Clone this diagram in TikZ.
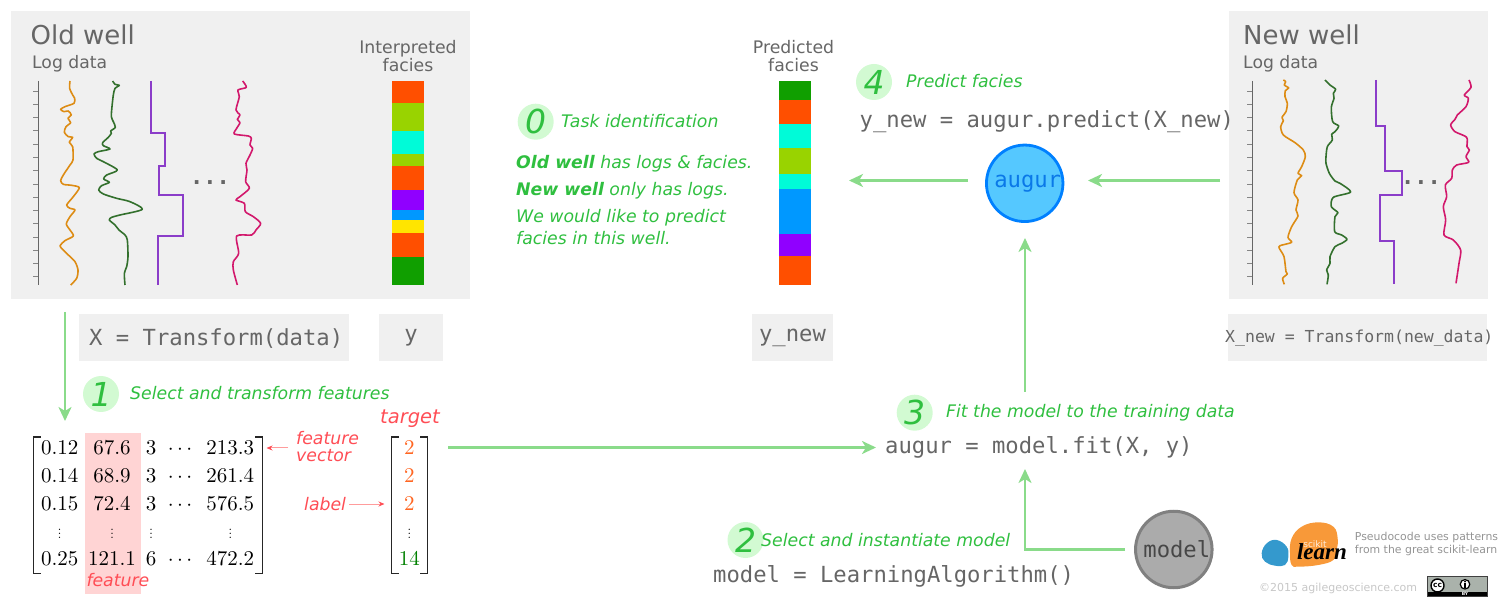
\documentclass[tikz,border=0pt]{standalone}
\usepackage{fix-cm}
\usepackage{fontspec}
\usetikzlibrary{arrows.meta}
\newfontfamily\dv{DejaVu Sans}
\newfontfamily\dvm{DejaVu Sans Mono}
\newfontfamily\lserif{Liberation Serif}
\newfontfamily\lmten{lmroman10-regular}[Extension=.otf]
\newcommand{\fs}[1]{\fontsize{#1}{#1}\selectfont}
\definecolor{boxgray}{HTML}{F0F0F0}
\definecolor{txtgray}{HTML}{666666}
\definecolor{flowgreen}{HTML}{8ADB8A}
\definecolor{stepgreen}{HTML}{2FBF3F}
\definecolor{stepfill}{HTML}{D2FAD2}
\definecolor{redlab}{HTML}{FF4D55}
\definecolor{redline}{HTML}{FF9C9C}
\definecolor{cA}{HTML}{FF4F00}
\definecolor{cB}{HTML}{99D300}
\definecolor{cC}{HTML}{00FBD8}
\definecolor{cD}{HTML}{9000FF}
\definecolor{cE}{HTML}{0098FF}
\definecolor{cF}{HTML}{FFE500}
\definecolor{cG}{HTML}{109F00}
\definecolor{lgO}{HTML}{DD8C14}
\definecolor{lgG}{HTML}{33702D}
\definecolor{lgP}{HTML}{8B3DC9}
\definecolor{lgR}{HTML}{D2186C}
\definecolor{augfill}{HTML}{55C8FF}
\definecolor{augline}{HTML}{0080FF}
\definecolor{augtext}{HTML}{0A78E8}
\definecolor{twoorange}{HTML}{FF6622}
\definecolor{fourteen}{HTML}{008000}
\definecolor{skblue}{HTML}{3499CD}
\definecolor{skorange}{HTML}{F89939}
\definecolor{ccgray}{HTML}{AAB2AB}
\tikzset{
  greybox/.style={fill=boxgray,draw=none},
  titletxt/.style={anchor=base west,inner sep=0,text=txtgray,font=\dv\fs{26}},
  subtxt/.style={anchor=base west,inner sep=0,text=txtgray,font=\dv\fs{17.2}},
  captxt/.style={anchor=base,inner sep=0,text=txtgray,font=\dv\fs{17.3}},
  codetxt/.style={anchor=base west,inner sep=0,text=txtgray,font=\dvm\fs{22.2}},
  steptext/.style={anchor=base west,inner sep=0,text=stepgreen,font=\dv\itshape\fs{17.3}},
  stepdot/.style={circle,fill=stepfill,minimum size=36pt,inner sep=0,text=stepgreen,font=\dv\itshape\fs{33}},
  redtext/.style={anchor=base west,inner sep=0,text=redlab,font=\dv\itshape\fs{17.3}},
  flow/.style={draw=flowgreen,line width=2.6pt,-{Stealth[length=14pt,width=13pt,inset=4pt]}},
  redarrow/.style={draw=redline,line width=1pt,-{Stealth[length=6pt,width=5pt,color=redlab]}},
  cell/.style={anchor=base,inner sep=0,font=\lmten\fs{21}},
  vcell/.style={anchor=base,inner sep=0,font=\fs{16}},
  brack/.style={draw=black!85,line width=1.4pt},
  logline/.style={line width=1.6pt,line join=round,smooth,tension=0.45},
}
\newcommand{\bands}[3]{% x1, x2, list
  \foreach \colr/\ya/\yb in {#3} {\fill[\colr] (#1,\ya) rectangle (#2,\yb);}}
\newcommand{\axisticks}[1]{%
  \draw[txtgray,line width=.9pt] (#1,243) -- (#1,855);
  \foreach \t in {273,313,352,392,433,472,511,552,592,631,671,712,751,790,830}
    {\draw[txtgray!80,line width=.8pt] (#1,\t) -- ++(-15,0);}}
\begin{document}
\begin{tikzpicture}[x=1pt,y=-1pt]
\useasboundingbox (0,0) rectangle (1500,609);
% --- boxes
\path[greybox] (11,11) rectangle (470,299);
\path[greybox] (1229,11) rectangle (1488,299);
\path[greybox] (79,314) rectangle (349,361);
\path[greybox] (379,314) rectangle (443,361);
\path[greybox] (752,314) rectangle (833,361);
\path[greybox] (1228,314) rectangle (1487,361);
% --- headings
\node[titletxt] (oldt) at (30.5,45) {Old well};
\node[subtxt] (oldl) at (32,68.3) {Log data};
\node[captxt] (interp1) at (408,53.3) {Interpreted};
\node[captxt] (interp2) at (408,71.3) {facies};
\node[titletxt] (newt) at (1243,45) {New well};
\node[subtxt] (newl) at (1243,68.3) {Log data};
\node[captxt] (pred1) at (793.5,53.3) {Predicted};
\node[captxt] (pred2) at (793.5,71.3) {facies};
% --- old well logs
\begin{scope}[x=.33333pt,y=-.33333pt]
\axisticks{115}
\draw[lgO,logline] plot coordinates {(210,243)(209,265)(218,285)(224,295)(222,310)(195,320)(182,328)(192,335)(205,333)(214,345)(204,355)(212,368)(198,380)(193,397)(205,410)(218,412)(208,427)(218,440)(219,480)(210,495)(190,525)(182,542)(190,553)(215,556)(238,563)(220,590)(200,615)(210,625)(225,630)(210,650)(199,672)(210,690)(220,708)(195,722)(180,738)(190,750)(205,765)(225,785)(234,810)(230,835)(212,855)};
\draw[lgG,logline] plot coordinates {(338,243)(345,253)(358,256)(345,265)(340,285)(336,320)(334,350)(340,365)(346,382)(332,393)(334,400)(325,412)(308,428)(310,437)(330,447)(295,455)(282,462)(290,475)(310,485)(352,510)(320,525)(311,537)(328,547)(305,557)(296,570)(310,582)(350,595)(390,605)(427,628)(360,645)(335,652)(328,660)(345,675)(357,690)(375,705)(382,720)(384,770)(380,800)(373,820)(375,855)};
\draw[lgP,line width=2pt] (453,243)--(453,400)--(494,400)--(494,497)--(476,497)--(476,584)--(548,584)--(548,708)--(474,708)--(474,855);
\draw[lgR,logline] plot coordinates {(728,243)(739,262)(714,270)(718,290)(708,330)(720,345)(712,358)(720,368)(710,385)(703,402)(745,408)(754,415)(750,435)(758,445)(750,465)(738,490)(741,510)(737,545)(748,565)(720,590)(708,600)(733,610)(736,635)(760,650)(782,670)(768,690)(755,705)(710,708)(716,760)(700,785)(700,810)(712,855)};
\bands{1176}{1272}{cA/243/310,cB/310/393,cC/393/461,cB/461/499,cA/499/570,cD/570/630,cE/630/660,cF/660/698,cA/698/771,cG/771/856}
\end{scope}
\node[anchor=base,inner sep=0,text=txtgray,font=\dvm\bfseries\fs{22}] (dotsold) at (210,185) {...};
% --- new well logs
\begin{scope}[x=.33333pt,y=-.33333pt,shift={(1220pt,0pt)}]
\axisticks{97}
\draw[lgO,logline] plot coordinates {(190,240)(197,245)(193,255)(206,264)(196,272)(195,290)(202,310)(198,335)(186,352)(190,362)(182,380)(190,405)(225,428)(250,450)(256,470)(245,500)(234,520)(245,527)(232,540)(222,578)(234,600)(228,630)(234,648)(215,680)(204,712)(215,727)(180,737)(178,745)(192,770)(198,815)(202,822)(188,835)(193,853)};
\draw[lgG,logline] plot coordinates {(315,240)(330,255)(347,268)(340,280)(342,295)(334,322)(338,365)(356,378)(345,395)(335,403)(337,420)(322,440)(318,470)(318,490)(328,520)(345,543)(360,550)(392,576)(340,592)(334,620)(354,638)(345,650)(344,695)(365,705)(381,718)(365,730)(345,740)(330,770)(330,790)(320,810)(325,825)(321,853)};
\draw[lgP,line width=2pt] (468,240)--(468,378)--(496,378)--(496,512)--(546,512)--(546,584)--(479,584)--(479,723)--(522,723)--(522,853);
\draw[lgR,logline] plot coordinates {(747,240)(753,262)(733,285)(745,295)(738,320)(712,345)(705,358)(692,375)(705,395)(740,412)(741,440)(748,450)(738,470)(746,487)(710,495)(697,510)(695,535)(676,555)(680,590)(670,620)(677,660)(672,705)(700,720)(722,750)(717,790)(708,850)};
\end{scope}
\node[anchor=base,inner sep=0,text=txtgray,font=\dvm\bfseries\fs{22}] (dotsnew) at (1421,185) {...};
% --- predicted facies
\begin{scope}[x=.33333pt,y=-.33333pt,shift={(500pt,-30pt)}]
\bands{838}{934}{cG/153/209,cA/209/283,cC/283/353,cB/353/433,cC/433/477,cE/477/612,cD/612/677,cA/677/766}
\end{scope}
% --- code labels
\node[codetxt] (xtr) at (89,346) {X = Transform(data)};
\node[codetxt,anchor=base] (yy) at (411,342) {y};
\node[codetxt,anchor=base] (ynew) at (792.5,342) {y\_new};
\node[codetxt,font=\dvm\fs{16.5}] (xnew) at (1225,343) {X\_new = Transform(new\_data)};
\node[codetxt] (ypred) at (859.5,128) {y\_new = augur.predict(X\_new)};
\node[codetxt] (fit) at (885,454) {augur = model.fit(X, y)};
\node[codetxt] (mdl) at (713,582) {model = LearningAlgorithm()};
% --- circles
\node[circle,minimum size=76.5pt,inner sep=0,fill=augfill,draw=augline,line width=2.8pt,text=augtext,font=\dvm\fs{22.2}] (augur) at (1024.7,183.3) {\hspace*{6pt}augur};
\node[circle,minimum size=76.5pt,inner sep=0,fill=black!33,draw=black!50,line width=3pt,text=black!72,font=\dvm\fs{22.2}] (model) at (1173.8,549.5) {\hspace*{6pt}model};
% --- steps
\node[stepdot] (s0) at (535.7,121.7) {0};
\node[steptext] (t0) at (561,127.5) {Task identification};
\node[stepdot] (s1) at (101,394) {1};
\node[steptext] (t1) at (130,399.5) {Select and transform features};
\node[stepdot] (s2) at (745.5,540) {2};
\node[steptext] (t2) at (761,546) {Select and instantiate model};
\node[stepdot] (s3) at (914.7,412.7) {3};
\node[steptext] (t3) at (946,418) {Fit the model to the training data};
\node[stepdot] (s4) at (874,82) {4};
\node[steptext] (t4) at (906,88) {Predict facies};
\node[steptext] (p1) at (516,169) {{\bfseries Old well} has logs \& facies.};
\node[steptext] (p2) at (516,196) {{\bfseries New well} only has logs.};
\node[steptext] (p3) at (516,222.5) {We would like to predict};
\node[steptext] (p4) at (516,245) {facies in this well.};
% --- matrix
\fill[red!17] (84.7,433) rectangle (141,593.7);
\foreach \rw/\yy/\a/\b/\cc/\dd in {1/454.5/0.12/67.6/3/213.3,2/482.5/0.14/68.9/3/261.4,3/510.1/0.15/72.4/3/576.5,5/565.8/0.25/121.1/6/472.2}{
  \node[cell] (ma\rw) at (59.7,\yy) {\a};
  \node[cell] (mb\rw) at (112,\yy) {\b};
  \node[cell] (mc\rw) at (151,\yy) {\cc};
  \node[cell,font=\fs{21}] (md\rw) at (180,\yy) {$\cdots$};
  \node[cell] (me\rw) at (230.3,\yy) {\dd};
}
\foreach \nm/\xx in {a/59.7,b/112,c/151,e/230.3}{
  \node[vcell] (m\nm4) at (\xx,538.5) {$\vdots$};
}
\draw[brack] (40.7,437) -| (33.3,573.3) -- (40.7,573.3);
\draw[brack] (255,437) -| (262.3,573.3) -- (255,573.3);
\draw[brack] (399,437) -| (391.7,573.3) -- (399,573.3);
\draw[brack] (420,437) -| (427.3,573.3) -- (420,573.3);
\foreach \rw/\yy in {1/454.5,2/482.5,3/510.1}{
  \node[cell,text=twoorange] (tv\rw) at (409.3,\yy) {2};
}
\node[vcell] (tv4) at (409.3,538.5) {$\vdots$};
\node[cell,text=fourteen] (tv5) at (409.3,565.8) {14};
% --- red labels
\node[redtext] (fv1) at (296,445) {feature};
\node[redtext] (fv2) at (296,461) {vector};
\node[redtext] (lab) at (304,511) {label};
\node[redtext] (fea) at (86.3,586) {feature};
\node[redtext,font=\dv\itshape\fs{19.5}] (tgt) at (380,424) {target};
\coordinate (fvs) at (288,448);
\coordinate (fve) at (266.5,448);
\coordinate (lbs) at (349,504);
\coordinate (lbe) at (384.5,504);
\draw[redarrow] (fvs) -- (fve);
\draw[redarrow] (lbs) -- (lbe);
% --- flow arrows
\coordinate (tfs) at (65,312);
\coordinate (tfe) at (65,421);
\coordinate (fs) at (448,447.5);
\coordinate (fe) at (876,447.5);
\coordinate (fua) at (1025,392);
\coordinate (fub) at (1025,238);
\coordinate (mf) at (1025,469);
\coordinate (aps) at (968,180.5);
\coordinate (ape) at (849,180.5);
\coordinate (nas) at (1220,180.5);
\coordinate (nae) at (1088,180.5);
\draw[flow] (tfs) -- (tfe);
\draw[flow] (fs) -- (fe);
\draw[flow] (fua) -- (fub);
\draw[flow,shorten <=9pt] (model.west) -| (mf);
\draw[flow] (aps) -- (ape);
\draw[flow] (nas) -- (nae);
% --- scikit-learn logo
\begin{scope}[x=.33333pt,y=-.33333pt,shift={(1255pt,-515pt)}]
\fill[skblue] plot[smooth cycle,tension=.7] coordinates {(20,115)(35,85)(65,75)(95,95)(100,125)(90,150)(60,152)(30,140)};
\fill[skorange] plot[smooth cycle,tension=.7] coordinates {(105,115)(110,70)(140,35)(190,22)(235,35)(248,70)(245,105)(235,135)(190,150)(130,155)(110,150)};
\node[anchor=center,inner sep=0,text=white!85!orange,font=\dv\fs{9}] (skit) at (180,87) {scikit};
\node[anchor=base,inner sep=0,text=black,font=\lserif\bfseries\itshape\fs{23}] (slearn) at (201,135) {learn};
\end{scope}
\node[anchor=base west,inner sep=0,text=black!42,font=\dv\fs{10.9}] (pc1) at (1354.7,540) {Pseudocode uses patterns};
\node[anchor=base west,inner sep=0,text=black!42,font=\dv\fs{10.9}] (pc2) at (1354.7,553.5) {from the great scikit-learn};
\node[anchor=base west,inner sep=0,text=black!22,font=\dv\fs{11}] (copy) at (1259,591) {©2015 agilegeoscience.com};
% --- CC badge
\fill[ccgray] (1427.7,576.7) rectangle (1487.7,592);
\fill[black] (1427.7,591.7) rectangle (1487.7,596.7);
\draw[black!75,line width=.8pt] (1427.7,576.7) rectangle (1487.7,596.7);
\node[circle,draw=black,line width=1.4pt,fill=white,minimum size=13pt,inner sep=0,text=black,font=\dv\bfseries\fs{7.5}] (ccb) at (1437.5,585.5) {cc};
\node[circle,draw=black,line width=1.2pt,fill=white,minimum size=9.5pt,inner sep=0] (ccp) at (1465,584.3) {};
\fill[black] (1465,581.6) circle (1.1pt);
\fill[black] (1463.6,583.2) rectangle (1466.4,587.6);
\node[inner sep=0,text=white,font=\dv\bfseries\fs{4.5}] (ccy) at (1465,594.3) {BY};
\end{tikzpicture}
\end{document}
